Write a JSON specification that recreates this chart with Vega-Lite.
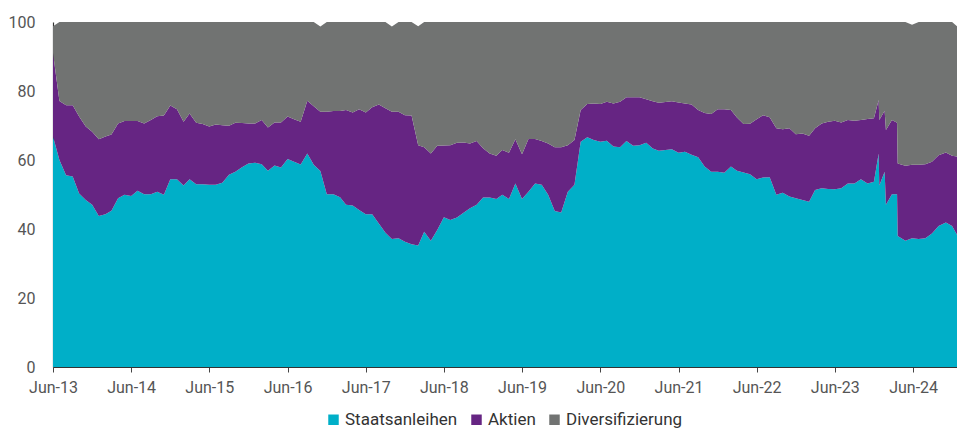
{
  "$schema": "https://vega.github.io/schema/vega-lite/v6.json",
  "width": 904,
  "height": 345,
  "autosize": {"type": "none"},
  "padding": {"left": 53, "top": 22, "right": 0, "bottom": 61},
  "background": "#ffffff",
  "config": {
    "view": {"stroke": null},
    "font": "Roboto",
    "axis": {"labelFont": "Roboto", "labelColor": "#555555", "labelFontSize": 16, "grid": false}
  },
  "data": {
    "values": [
      {"d":"2013-06-01","Staatsanleihen":66.8,"Aktien":24.2,"Diversifizierung":7.8},
      {"d":"2013-07-01","Staatsanleihen":60,"Aktien":17.1,"Diversifizierung":22.9},
      {"d":"2013-08-01","Staatsanleihen":55.6,"Aktien":20.3,"Diversifizierung":24.1},
      {"d":"2013-09-01","Staatsanleihen":55.2,"Aktien":20.7,"Diversifizierung":24.1},
      {"d":"2013-10-01","Staatsanleihen":50.3,"Aktien":22.3,"Diversifizierung":27.4},
      {"d":"2013-11-01","Staatsanleihen":48.4,"Aktien":21.3,"Diversifizierung":30.3},
      {"d":"2013-12-01","Staatsanleihen":47,"Aktien":21.2,"Diversifizierung":31.8},
      {"d":"2014-01-01","Staatsanleihen":43.8,"Aktien":22.2,"Diversifizierung":34},
      {"d":"2014-02-01","Staatsanleihen":44.3,"Aktien":22.5,"Diversifizierung":33.2},
      {"d":"2014-03-01","Staatsanleihen":45.3,"Aktien":22.1,"Diversifizierung":32.6},
      {"d":"2014-04-01","Staatsanleihen":48.9,"Aktien":21.7,"Diversifizierung":29.4},
      {"d":"2014-05-01","Staatsanleihen":49.9,"Aktien":21.4,"Diversifizierung":28.7},
      {"d":"2014-06-01","Staatsanleihen":49.6,"Aktien":21.7,"Diversifizierung":28.7},
      {"d":"2014-07-01","Staatsanleihen":51.1,"Aktien":20.2,"Diversifizierung":28.7},
      {"d":"2014-08-01","Staatsanleihen":50.1,"Aktien":20.5,"Diversifizierung":29.4},
      {"d":"2014-09-01","Staatsanleihen":50.1,"Aktien":21.5,"Diversifizierung":28.4},
      {"d":"2014-10-01","Staatsanleihen":50.8,"Aktien":21.9,"Diversifizierung":27.3},
      {"d":"2014-11-01","Staatsanleihen":49.9,"Aktien":23,"Diversifizierung":27.1},
      {"d":"2014-12-01","Staatsanleihen":54.4,"Aktien":21.4,"Diversifizierung":24.2},
      {"d":"2015-01-01","Staatsanleihen":54.4,"Aktien":20.3,"Diversifizierung":25.3},
      {"d":"2015-02-01","Staatsanleihen":52.6,"Aktien":18.5,"Diversifizierung":28.9},
      {"d":"2015-03-01","Staatsanleihen":54.4,"Aktien":19.1,"Diversifizierung":26.5},
      {"d":"2015-04-01","Staatsanleihen":53,"Aktien":17.8,"Diversifizierung":29.2},
      {"d":"2015-05-01","Staatsanleihen":53,"Aktien":17.4,"Diversifizierung":29.6},
      {"d":"2015-06-01","Staatsanleihen":52.8,"Aktien":16.9,"Diversifizierung":30.3},
      {"d":"2015-07-01","Staatsanleihen":52.8,"Aktien":17.5,"Diversifizierung":29.7},
      {"d":"2015-08-01","Staatsanleihen":53.4,"Aktien":16.7,"Diversifizierung":29.9},
      {"d":"2015-09-01","Staatsanleihen":55.7,"Aktien":14.2,"Diversifizierung":30.1},
      {"d":"2015-10-01","Staatsanleihen":56.6,"Aktien":14.2,"Diversifizierung":29.2},
      {"d":"2015-11-01","Staatsanleihen":57.9,"Aktien":12.8,"Diversifizierung":29.3},
      {"d":"2015-12-01","Staatsanleihen":59,"Aktien":11.6,"Diversifizierung":29.4},
      {"d":"2016-01-01","Staatsanleihen":59.2,"Aktien":11.4,"Diversifizierung":29.4},
      {"d":"2016-02-01","Staatsanleihen":58.8,"Aktien":12.8,"Diversifizierung":28.4},
      {"d":"2016-03-01","Staatsanleihen":56.9,"Aktien":12.5,"Diversifizierung":30.6},
      {"d":"2016-04-01","Staatsanleihen":58.4,"Aktien":12.5,"Diversifizierung":29.1},
      {"d":"2016-05-01","Staatsanleihen":57.8,"Aktien":13.1,"Diversifizierung":29.1},
      {"d":"2016-06-01","Staatsanleihen":60.3,"Aktien":12.3,"Diversifizierung":27.4},
      {"d":"2016-07-01","Staatsanleihen":59.5,"Aktien":12.3,"Diversifizierung":28.2},
      {"d":"2016-08-01","Staatsanleihen":58.7,"Aktien":12.4,"Diversifizierung":28.9},
      {"d":"2016-09-01","Staatsanleihen":61.9,"Aktien":15.3,"Diversifizierung":22.8},
      {"d":"2016-10-01","Staatsanleihen":58.6,"Aktien":17,"Diversifizierung":24.4},
      {"d":"2016-11-01","Staatsanleihen":56.8,"Aktien":17.2,"Diversifizierung":24.7},
      {"d":"2016-12-01","Staatsanleihen":50.1,"Aktien":23.9,"Diversifizierung":26},
      {"d":"2017-01-01","Staatsanleihen":50.1,"Aktien":24.1,"Diversifizierung":25.8},
      {"d":"2017-02-01","Staatsanleihen":49.2,"Aktien":25,"Diversifizierung":25.8},
      {"d":"2017-03-01","Staatsanleihen":47,"Aktien":27.5,"Diversifizierung":25.5},
      {"d":"2017-04-01","Staatsanleihen":46.8,"Aktien":27,"Diversifizierung":26.2},
      {"d":"2017-05-01","Staatsanleihen":45.5,"Aktien":29.2,"Diversifizierung":25.3},
      {"d":"2017-06-01","Staatsanleihen":44.3,"Aktien":29.5,"Diversifizierung":26.2},
      {"d":"2017-07-01","Staatsanleihen":44.3,"Aktien":31,"Diversifizierung":24.7},
      {"d":"2017-08-01","Staatsanleihen":41.6,"Aktien":34.5,"Diversifizierung":23.9},
      {"d":"2017-09-01","Staatsanleihen":38.9,"Aktien":36.1,"Diversifizierung":25},
      {"d":"2017-10-01","Staatsanleihen":37.1,"Aktien":36.9,"Diversifizierung":24.7},
      {"d":"2017-11-01","Staatsanleihen":37.3,"Aktien":36.7,"Diversifizierung":26},
      {"d":"2017-12-01","Staatsanleihen":36.3,"Aktien":36.7,"Diversifizierung":27},
      {"d":"2018-01-01","Staatsanleihen":35.6,"Aktien":37.3,"Diversifizierung":27.1},
      {"d":"2018-02-01","Staatsanleihen":35.2,"Aktien":29.1,"Diversifizierung":34.5},
      {"d":"2018-03-01","Staatsanleihen":39.2,"Aktien":24.5,"Diversifizierung":36.3},
      {"d":"2018-04-01","Staatsanleihen":36.6,"Aktien":25.3,"Diversifizierung":38.1},
      {"d":"2018-05-01","Staatsanleihen":39.7,"Aktien":24.4,"Diversifizierung":35.9},
      {"d":"2018-06-01","Staatsanleihen":43.4,"Aktien":20.8,"Diversifizierung":35.8},
      {"d":"2018-07-01","Staatsanleihen":42.6,"Aktien":21.7,"Diversifizierung":35.7},
      {"d":"2018-08-01","Staatsanleihen":43.3,"Aktien":21.7,"Diversifizierung":35},
      {"d":"2018-09-01","Staatsanleihen":44.7,"Aktien":20.4,"Diversifizierung":34.9},
      {"d":"2018-10-01","Staatsanleihen":46,"Aktien":18.8,"Diversifizierung":35.2},
      {"d":"2018-11-01","Staatsanleihen":47,"Aktien":18.5,"Diversifizierung":34.5},
      {"d":"2018-12-01","Staatsanleihen":49.1,"Aktien":14.3,"Diversifizierung":36.6},
      {"d":"2019-01-01","Staatsanleihen":49.1,"Aktien":12.8,"Diversifizierung":38.1},
      {"d":"2019-02-01","Staatsanleihen":48.7,"Aktien":12.5,"Diversifizierung":38.8},
      {"d":"2019-03-01","Staatsanleihen":49.9,"Aktien":13,"Diversifizierung":37.1},
      {"d":"2019-04-01","Staatsanleihen":48.7,"Aktien":13.4,"Diversifizierung":37.9},
      {"d":"2019-05-01","Staatsanleihen":53.2,"Aktien":12.8,"Diversifizierung":34},
      {"d":"2019-06-01","Staatsanleihen":48.7,"Aktien":13,"Diversifizierung":38.3},
      {"d":"2019-07-01","Staatsanleihen":50.8,"Aktien":15.3,"Diversifizierung":33.9},
      {"d":"2019-08-01","Staatsanleihen":53.2,"Aktien":12.9,"Diversifizierung":33.9},
      {"d":"2019-09-01","Staatsanleihen":52.8,"Aktien":12.7,"Diversifizierung":34.5},
      {"d":"2019-10-01","Staatsanleihen":49.9,"Aktien":14.9,"Diversifizierung":35.2},
      {"d":"2019-11-01","Staatsanleihen":45.2,"Aktien":18.5,"Diversifizierung":36.3},
      {"d":"2019-12-01","Staatsanleihen":44.8,"Aktien":18.9,"Diversifizierung":36.3},
      {"d":"2020-01-01","Staatsanleihen":50.8,"Aktien":13.5,"Diversifizierung":35.7},
      {"d":"2020-02-01","Staatsanleihen":52.8,"Aktien":13,"Diversifizierung":34.2},
      {"d":"2020-03-01","Staatsanleihen":65.3,"Aktien":9.2,"Diversifizierung":25.5},
      {"d":"2020-04-01","Staatsanleihen":66.6,"Aktien":9.6,"Diversifizierung":23.8},
      {"d":"2020-05-01","Staatsanleihen":65.8,"Aktien":10.6,"Diversifizierung":23.6},
      {"d":"2020-06-01","Staatsanleihen":65.3,"Aktien":10.9,"Diversifizierung":23.8},
      {"d":"2020-07-01","Staatsanleihen":65.6,"Aktien":11.3,"Diversifizierung":23.1},
      {"d":"2020-08-01","Staatsanleihen":63.9,"Aktien":12.5,"Diversifizierung":23.6},
      {"d":"2020-09-01","Staatsanleihen":63.7,"Aktien":13.2,"Diversifizierung":23.1},
      {"d":"2020-10-01","Staatsanleihen":65.5,"Aktien":12.7,"Diversifizierung":21.8},
      {"d":"2020-11-01","Staatsanleihen":64.1,"Aktien":14.1,"Diversifizierung":21.8},
      {"d":"2020-12-01","Staatsanleihen":64.3,"Aktien":13.9,"Diversifizierung":21.8},
      {"d":"2021-01-01","Staatsanleihen":65,"Aktien":12.6,"Diversifizierung":22.4},
      {"d":"2021-02-01","Staatsanleihen":63.3,"Aktien":13.7,"Diversifizierung":23},
      {"d":"2021-03-01","Staatsanleihen":62.7,"Aktien":13.9,"Diversifizierung":23.4},
      {"d":"2021-04-01","Staatsanleihen":62.9,"Aktien":13.9,"Diversifizierung":23.2},
      {"d":"2021-05-01","Staatsanleihen":63.1,"Aktien":13.9,"Diversifizierung":23},
      {"d":"2021-06-01","Staatsanleihen":62.1,"Aktien":14.6,"Diversifizierung":23.3},
      {"d":"2021-07-01","Staatsanleihen":62.4,"Aktien":14,"Diversifizierung":23.6},
      {"d":"2021-08-01","Staatsanleihen":61.5,"Aktien":14.6,"Diversifizierung":23.9},
      {"d":"2021-09-01","Staatsanleihen":60.8,"Aktien":13.7,"Diversifizierung":25.5},
      {"d":"2021-10-01","Staatsanleihen":58.1,"Aktien":15.5,"Diversifizierung":26.4},
      {"d":"2021-11-01","Staatsanleihen":56.6,"Aktien":16.7,"Diversifizierung":26.7},
      {"d":"2021-12-01","Staatsanleihen":56.6,"Aktien":18.1,"Diversifizierung":25.3},
      {"d":"2022-01-01","Staatsanleihen":56.3,"Aktien":18.4,"Diversifizierung":25.3},
      {"d":"2022-02-01","Staatsanleihen":58.1,"Aktien":16.4,"Diversifizierung":25.5},
      {"d":"2022-03-01","Staatsanleihen":56.9,"Aktien":15.4,"Diversifizierung":27.7},
      {"d":"2022-04-01","Staatsanleihen":56.4,"Aktien":14,"Diversifizierung":29.6},
      {"d":"2022-05-01","Staatsanleihen":55.9,"Aktien":14.6,"Diversifizierung":29.5},
      {"d":"2022-06-01","Staatsanleihen":54.4,"Aktien":17.4,"Diversifizierung":28.2},
      {"d":"2022-07-01","Staatsanleihen":54.9,"Aktien":18.1,"Diversifizierung":27},
      {"d":"2022-08-01","Staatsanleihen":55,"Aktien":17.4,"Diversifizierung":27.6},
      {"d":"2022-09-01","Staatsanleihen":49.9,"Aktien":19.3,"Diversifizierung":30.8},
      {"d":"2022-10-01","Staatsanleihen":50.5,"Aktien":18.4,"Diversifizierung":31.1},
      {"d":"2022-11-01","Staatsanleihen":49.4,"Aktien":19.8,"Diversifizierung":30.8},
      {"d":"2022-12-01","Staatsanleihen":48.9,"Aktien":18.6,"Diversifizierung":32.5},
      {"d":"2023-01-01","Staatsanleihen":48.4,"Aktien":19.3,"Diversifizierung":32.3},
      {"d":"2023-02-01","Staatsanleihen":47.9,"Aktien":19.1,"Diversifizierung":33},
      {"d":"2023-03-01","Staatsanleihen":51.3,"Aktien":17.9,"Diversifizierung":30.8},
      {"d":"2023-04-01","Staatsanleihen":51.8,"Aktien":18.8,"Diversifizierung":29.4},
      {"d":"2023-05-01","Staatsanleihen":51.6,"Aktien":19.5,"Diversifizierung":28.9},
      {"d":"2023-06-01","Staatsanleihen":51.5,"Aktien":19.9,"Diversifizierung":28.6},
      {"d":"2023-07-01","Staatsanleihen":51.8,"Aktien":19.1,"Diversifizierung":29.1},
      {"d":"2023-08-01","Staatsanleihen":53.2,"Aktien":18.4,"Diversifizierung":28.4},
      {"d":"2023-09-01","Staatsanleihen":53.2,"Aktien":18.2,"Diversifizierung":28.6},
      {"d":"2023-10-01","Staatsanleihen":54.4,"Aktien":17.2,"Diversifizierung":28.4},
      {"d":"2023-11-01","Staatsanleihen":53.2,"Aktien":18.7,"Diversifizierung":28.1},
      {"d":"2023-12-01","Staatsanleihen":53.7,"Aktien":18.4,"Diversifizierung":27.9},
      {"d":"2023-12-23","Staatsanleihen":61.9,"Aktien":15.5,"Diversifizierung":22.6},
      {"d":"2023-12-26","Staatsanleihen":52.6,"Aktien":19,"Diversifizierung":28.4},
      {"d":"2024-01-20","Staatsanleihen":56.6,"Aktien":17.7,"Diversifizierung":25.7},
      {"d":"2024-01-26","Staatsanleihen":47,"Aktien":21.7,"Diversifizierung":31.3},
      {"d":"2024-02-23","Staatsanleihen":50.1,"Aktien":21.5,"Diversifizierung":28.4},
      {"d":"2024-03-18","Staatsanleihen":50.1,"Aktien":20.7,"Diversifizierung":29.2},
      {"d":"2024-03-21","Staatsanleihen":38,"Aktien":21,"Diversifizierung":41},
      {"d":"2024-04-26","Staatsanleihen":36.6,"Aktien":21.7,"Diversifizierung":41.7},
      {"d":"2024-05-27","Staatsanleihen":37.3,"Aktien":21.3,"Diversifizierung":40.6},
      {"d":"2024-06-27","Staatsanleihen":37.1,"Aktien":21.5,"Diversifizierung":41.4},
      {"d":"2024-07-28","Staatsanleihen":37.3,"Aktien":21.5,"Diversifizierung":41.2},
      {"d":"2024-08-28","Staatsanleihen":38.7,"Aktien":20.8,"Diversifizierung":40.5},
      {"d":"2024-09-28","Staatsanleihen":40.9,"Aktien":20.5,"Diversifizierung":38.6},
      {"d":"2024-11-01","Staatsanleihen":41.9,"Aktien":20.3,"Diversifizierung":37.8},
      {"d":"2024-11-30","Staatsanleihen":40.9,"Aktien":20.3,"Diversifizierung":38.8},
      {"d":"2024-12-23","Staatsanleihen":38.3,"Aktien":22.7,"Diversifizierung":37.8}
    ]
  },
  "transform": [
    {"fold": ["Staatsanleihen", "Aktien", "Diversifizierung"], "as": ["Reihe", "Wert"]},
    {"calculate": "indexof(['Staatsanleihen','Aktien','Diversifizierung'], datum.Reihe)", "as": "Reihenfolge"}
  ],
  "mark": {"type": "area", "interpolate": "linear", "strokeWidth": 0},
  "encoding": {
    "x": {
      "field": "d",
      "type": "temporal",
      "scale": {
        "type": "utc",
        "nice": false,
        "domain": [
          {"year": 2013, "month": 6, "date": 1, "utc": true},
          {"year": 2024, "month": 12, "date": 23, "utc": true}
        ]
      },
      "axis": {
        "title": null,
        "format": "%b-%y",
        "values": [
          {"year": 2013, "month": 6, "date": 1, "utc": true},
          {"year": 2014, "month": 6, "date": 1, "utc": true},
          {"year": 2015, "month": 6, "date": 1, "utc": true},
          {"year": 2016, "month": 6, "date": 1, "utc": true},
          {"year": 2017, "month": 6, "date": 1, "utc": true},
          {"year": 2018, "month": 6, "date": 1, "utc": true},
          {"year": 2019, "month": 6, "date": 1, "utc": true},
          {"year": 2020, "month": 6, "date": 1, "utc": true},
          {"year": 2021, "month": 6, "date": 1, "utc": true},
          {"year": 2022, "month": 6, "date": 1, "utc": true},
          {"year": 2023, "month": 6, "date": 1, "utc": true},
          {"year": 2024, "month": 6, "date": 1, "utc": true}
        ],
        "labelFlush": false,
        "labelOverlap": false,
        "tickSize": 5,
        "tickColor": "#444444",
        "domainColor": "#333333",
        "domainWidth": 1.2,
        "labelPadding": 7
      }
    },
    "y": {
      "field": "Wert",
      "type": "quantitative",
      "stack": "zero",
      "scale": {"domain": [0, 100], "nice": false},
      "axis": {
        "title": null,
        "values": [0, 20, 40, 60, 80, 100],
        "ticks": false,
        "domainColor": "#333333",
        "domainWidth": 1.2,
        "labelPadding": 18
      }
    },
    "color": {
      "field": "Reihe",
      "type": "nominal",
      "sort": ["Staatsanleihen", "Aktien", "Diversifizierung"],
      "scale": {
        "domain": ["Staatsanleihen", "Aktien", "Diversifizierung"],
        "range": ["#00AFC8", "#662583", "#717372"]
      },
      "legend": {
        "title": null,
        "orient": "none",
        "direction": "horizontal",
        "legendX": 272,
        "legendY": 389,
        "symbolType": "square",
        "symbolSize": 110,
        "symbolStrokeWidth": 0,
        "symbolOpacity": 1,
        "labelFont": "Roboto",
        "labelFontSize": 17,
        "labelColor": "#333333",
        "labelOffset": 3,
        "columnPadding": 10
      }
    },
    "order": {"field": "Reihenfolge", "type": "quantitative"}
  }
}
